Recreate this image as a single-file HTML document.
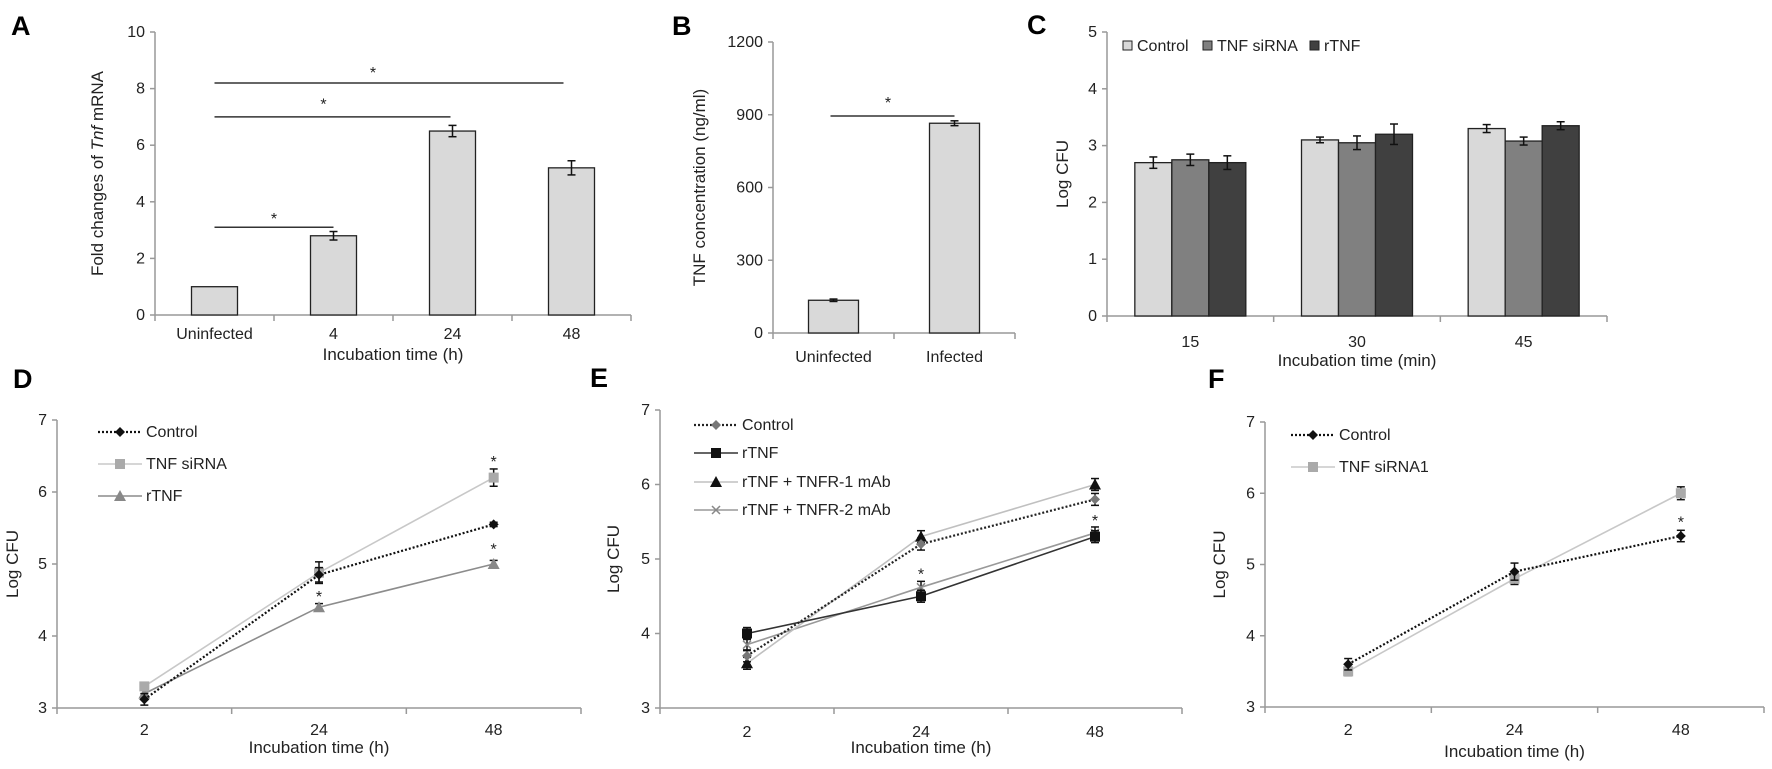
<!DOCTYPE html>
<html><head><meta charset="utf-8"><style>
body{margin:0;background:#fff}
svg{display:block;font-family:"Liberation Sans",sans-serif}
.tk{font-size:16px;fill:#222}
.tt{font-size:17px;fill:#222}
.pl{font-size:27px;font-weight:bold;fill:#000}
</style></head><body>
<svg id="fig" width="1772" height="769" viewBox="0 0 1772 769" xmlns="http://www.w3.org/2000/svg"></svg>
<script>
// Panel A data
const aCats = ["Uninfected","4","24","48"];
const aVals = [1, 2.8, 6.5, 5.2];
const aErr = [0, 0.15, 0.2, 0.25];
const aTicks = [0,2,4,6,8,10];
// Panel B
const bCats = ["Uninfected","Infected"];
const bVals = [135, 865];
const bErr = [5, 10];
const bTicks = [0,300,600,900,1200];
// Panel C
const cCats = ["15","30","45"];
const cSeries = ["Control","TNF siRNA","rTNF"];
const cControl = [2.7, 3.1, 3.3];
const cSiRNA = [2.75, 3.05, 3.08];
const cRTNF = [2.7, 3.2, 3.35];
const cErrControl = [0.1, 0.05, 0.07];
const cErrSiRNA = [0.1, 0.12, 0.07];
const cErrRTNF = [0.12, 0.18, 0.07];
const cTicks = [0,1,2,3,4,5];
// Panel D
const dCats = ["2","24","48"];
const dControl = [3.12, 4.85, 5.55];
const dSiRNA = [3.3, 4.88, 6.2];
const dRTNF = [3.2, 4.4, 5.0];
const dErrControl = [0.08, 0.1, 0.03];
const dErrSiRNA = [0.05, 0.15, 0.12];
const dErrRTNF = [0.05, 0.05, 0.05];
const lineTicks = [3,4,5,6,7];
// Panel E
const eCats = ["2","24","48"];
const eControl = [3.7, 5.2, 5.8];
const eRTNF = [4.0, 4.5, 5.3];
const eR1 = [3.6, 5.3, 6.0];
const eR2 = [3.85, 4.62, 5.35];
// Panel F
const fCats = ["2","24","48"];
const fControl = [3.6, 4.9, 5.4];
const fSiRNA1 = [3.5, 4.8, 6.0];

const svg = document.getElementById('fig');
const NS = 'http://www.w3.org/2000/svg';
function mk(tag, attrs, parent){
  const e = document.createElementNS(NS, tag);
  for (const k in attrs) e.setAttribute(k, attrs[k]);
  (parent||svg).appendChild(e);
  return e;
}
function txt(x,y,s,cls,anchor,parent){
  const t = mk('text',{x:x,y:y,'class':cls,'text-anchor':anchor||'middle'},parent);
  t.textContent = s;
  return t;
}
function axisY(x0,y0,y1,vmin,vmax){ return v => y0 - (v-vmin)/(vmax-vmin)*(y0-y1); }

function drawAxes(g, x0, x1, y0, yTop, ticks, yS, nCats, catLabels, xLab, labY, titleY, yTitle, ytx){
  mk('line',{x1:x0,y1:y0,x2:x0,y2:yTop,stroke:'#999','stroke-width':1.5},g);
  mk('line',{x1:x0,y1:y0,x2:x1,y2:y0,stroke:'#999','stroke-width':1.5},g);
  ticks.forEach(t=>{
    const y = yS(t);
    mk('line',{x1:x0-5,y1:y,x2:x0,y2:y,stroke:'#999','stroke-width':1.5},g);
    const l = txt(x0-10,y+5,String(t),'tk','end',g);
    
    
  });
  const cw = (x1-x0)/nCats;
  for(let i=0;i<=nCats;i++){
    mk('line',{x1:x0+i*cw,y1:y0,x2:x0+i*cw,y2:y0+6,stroke:'#999','stroke-width':1.5},g);
  }
  catLabels.forEach((c,i)=>{
    const l = txt(x0+(i+0.5)*cw,labY,c,'tk','middle',g);
    
    
  });
  const xt = txt((x0+x1)/2, titleY, xLab, 'tt','middle',g);
  
  
  const ymid = (y0+yTop)/2;
  const yt = mk('text',{x:ytx,y:ymid,'class':'tt','text-anchor':'middle',transform:'rotate(-90 '+ytx+' '+ymid+')'},g);
  
  
  if (typeof yTitle === 'string') yt.textContent = yTitle; else yTitle(yt);
  return cw;
}
function errBar(g,x,yv,ye,yS,w){
  const a=yS(yv+ye), b=yS(yv-ye);
  mk('line',{x1:x,y1:a,x2:x,y2:b,stroke:'#111','stroke-width':1.5},g);
  mk('line',{x1:x-w,y1:a,x2:x+w,y2:a,stroke:'#111','stroke-width':1.5},g);
  mk('line',{x1:x-w,y1:b,x2:x+w,y2:b,stroke:'#111','stroke-width':1.5},g);
}
function star(g,x,y){
  const s = txt(x,y+8,'*','tk','middle',g);
  
  
}
function sigLine(g,xa,xb,y){
  const l = mk('line',{x1:xa,y1:y,x2:xb,y2:y,stroke:'#333','stroke-width':1.5},g);
  
  
}
function panelLetter(x,y,s){
  const t = txt(x,y,s,'pl','start');
  
  
}

// ---------- Panel A ----------
(function(){
  const g = mk('g',{});
  
  
  const x0=155,x1=631,y0=315,yt=32;
  const yS = axisY(x0,y0,yt,0,10);
  const cw = drawAxes(g,x0,x1,y0,yt,aTicks,yS,aCats.length,aCats,'Incubation time (h)',339,360,
    el=>{el.appendChild(document.createTextNode('Fold changes of '));
      const ts=document.createElementNS(NS,'tspan');ts.setAttribute('font-style','italic');ts.textContent='Tnf';el.appendChild(ts);
      el.appendChild(document.createTextNode(' mRNA'));},103);
  aVals.forEach((v,i)=>{
    const cx=x0+(i+0.5)*cw, bw=46;
    const r = mk('rect',{x:cx-bw/2,y:yS(v),width:bw,height:y0-yS(v),fill:'#d9d9d9',stroke:'#222','stroke-width':1.3},g);
    
    
    if(aErr[i]>0) errBar(g,cx,v,aErr[i],yS,4);
  });
  const c=i=>x0+(i+0.5)*cw;
  sigLine(g,c(0),c(1),yS(3.1)); star(g,(c(0)+c(1))/2,yS(3.5));
  sigLine(g,c(0),c(2)-2,yS(7.0)); star(g,(c(0)+c(2))/2-10,yS(7.55));
  sigLine(g,c(0),c(3)-8,yS(8.2)); star(g,(c(0)+c(3))/2-20,yS(8.65));
})();
panelLetter(11,35,'A');

// ---------- Panel B ----------
(function(){
  const g = mk('g',{});
  
  
  const x0=773,x1=1015,y0=333,yt=42;
  const yS = axisY(x0,y0,yt,0,1200);
  const cw = drawAxes(g,x0,x1,y0,yt,bTicks,yS,bCats.length,bCats,'',362,380,'TNF concentration (ng/ml)',705);
  bVals.forEach((v,i)=>{
    const cx=x0+(i+0.5)*cw, bw=50;
    const r = mk('rect',{x:cx-bw/2,y:yS(v),width:bw,height:y0-yS(v),fill:'#d9d9d9',stroke:'#222','stroke-width':1.3},g);
    
    
    errBar(g,cx,v,bErr[i],yS,4);
  });
  const c=i=>x0+(i+0.5)*cw;
  sigLine(g,c(0)-3,c(1),yS(895)); star(g,(c(0)+c(1))/2-6,yS(960));
})();
panelLetter(672,35,'B');

// ---------- Panel C ----------
(function(){
  const g = mk('g',{});
  
  
  const x0=1107,x1=1607,y0=316,yt=32;
  const yS = axisY(x0,y0,yt,0,5);
  const cw = drawAxes(g,x0,x1,y0,yt,cTicks,yS,cCats.length,cCats,'Incubation time (min)',347,366,'Log CFU',1068);
  const series=[cControl,cSiRNA,cRTNF], errs=[cErrControl,cErrSiRNA,cErrRTNF], cols=['#d9d9d9','#808080','#404040'];
  const bw=37;
  cCats.forEach((cat,i)=>{
    const cx=x0+(i+0.5)*cw;
    series.forEach((s,j)=>{
      const bx=cx+(j-1.5)*bw;
      const r = mk('rect',{x:bx,y:yS(s[i]),width:bw,height:y0-yS(s[i]),fill:cols[j],stroke:'#222','stroke-width':1.3},g);
      
      
      errBar(g,bx+bw/2,s[i],errs[j][i],yS,4);
    });
  });
  const lg = mk('g',{},g);
  
  
  const lx=[1123,1203,1310];
  cSeries.forEach((s,j)=>{
    const r=mk('rect',{x:lx[j],y:41,width:9,height:9,fill:cols[j],stroke:'#222','stroke-width':1},lg);
    
    
    const t=txt(lx[j]+14,51,s,'tk','start',lg);
    
    
  });
})();
panelLetter(1027,34,'C');

// ---------- line chart helper ----------
function marker(g,type,x,y,color){
  let m;
  if(type==='diamond') m=mk('polygon',{points:`${x},${y-5} ${x+5},${y} ${x},${y+5} ${x-5},${y}`,fill:color},g);
  else if(type==='square') m=mk('rect',{x:x-5,y:y-5,width:10,height:10,fill:color},g);
  else if(type==='triangle') m=mk('polygon',{points:`${x},${y-6} ${x+6},${y+5} ${x-6},${y+5}`,fill:color},g);
  else { m=mk('path',{d:`M${x-4},${y-4}L${x+4},${y+4}M${x-4},${y+4}L${x+4},${y-4}`,stroke:color,'stroke-width':1.5,fill:'none'},g); }
  
  
}
function series(g,vals,errs,xS,yS,style,name){
  const pts = vals.map((v,i)=>xS(i)+','+yS(v)).join(' ');
  const pl = mk('polyline',{points:pts,fill:'none',stroke:style.stroke,'stroke-width':style.sw||1.6,'stroke-dasharray':style.dash||'none'},g);
  
  
  vals.forEach((v,i)=>{
    if(errs) errBar(g,xS(i),v,errs[i],yS,4);
    marker(g,style.marker,xS(i),yS(v),style.mcolor);
  });
}
function legendRow(g,x,y,label,style){
  mk('line',{x1:x,y1:y,x2:x+44,y2:y,stroke:style.stroke,'stroke-width':style.sw||1.6,'stroke-dasharray':style.dash||'none'},g);
  marker(g,style.marker,x+22,y,style.mcolor);
  const t=txt(x+48,y+5,label,'tk','start',g);
  
  
}

// ---------- Panel D ----------
(function(){
  const g = mk('g',{});
  
  
  const x0=57,x1=581,y0=708,yt=420;
  const yS = axisY(x0,y0,yt,3,7);
  const cw = drawAxes(g,x0,x1,y0,yt,lineTicks,yS,dCats.length,dCats,'Incubation time (h)',735,753,'Log CFU',18);
  const xS = i=>x0+(i+0.5)*cw;
  const sC={stroke:'#111',dash:'2,2',sw:2.2,marker:'diamond',mcolor:'#111'};
  const sS={stroke:'#c8c8c8',marker:'square',mcolor:'#aaa'};
  const sR={stroke:'#8c8c8c',marker:'triangle',mcolor:'#888'};
  series(g,dRTNF,dErrRTNF,xS,yS,sR,'rtnf');
  series(g,dSiRNA,dErrSiRNA,xS,yS,sS,'tnf-sirna');
  series(g,dControl,dErrControl,xS,yS,sC,'control');
  star(g,xS(2),yS(6.46)); star(g,xS(1),yS(4.58)); star(g,xS(2),yS(5.24));
  const lg=mk('g',{},g);
  
  
  legendRow(lg,98,432,'Control',sC);
  legendRow(lg,98,464,'TNF siRNA',sS);
  legendRow(lg,98,496,'rTNF',sR);
})();
panelLetter(13,388,'D');

// ---------- Panel E ----------
(function(){
  const g = mk('g',{});
  
  
  const x0=660,x1=1182,y0=708,yt=410;
  const yS = axisY(x0,y0,yt,3,7);
  const cw = drawAxes(g,x0,x1,y0,yt,lineTicks,yS,eCats.length,eCats,'Incubation time (h)',737,753,'Log CFU',619);
  const xS = i=>x0+(i+0.5)*cw;
  const sC={stroke:'#222',dash:'2,2',sw:2.2,marker:'diamond',mcolor:'#777'};
  const sR={stroke:'#333',marker:'square',mcolor:'#111'};
  const s1={stroke:'#c0c0c0',marker:'triangle',mcolor:'#111'};
  const s2={stroke:'#999',marker:'x',mcolor:'#888'};
  const e=[0.08,0.08,0.08];
  series(g,eR2,e,xS,yS,s2,'rtnf-tnfr2');
  series(g,eR1,e,xS,yS,s1,'rtnf-tnfr1');
  series(g,eRTNF,e,xS,yS,sR,'rtnf');
  series(g,eControl,e,xS,yS,sC,'control');
  star(g,xS(1),yS(4.83)); star(g,xS(2),yS(5.55));
  const lg=mk('g',{},g);
  
  
  legendRow(lg,694,425,'Control',sC);
  legendRow(lg,694,453,'rTNF',sR);
  legendRow(lg,694,482,'rTNF + TNFR-1 mAb',s1);
  legendRow(lg,694,510,'rTNF + TNFR-2 mAb',s2);
})();
panelLetter(590,387,'E');

// ---------- Panel F ----------
(function(){
  const g = mk('g',{});
  
  
  const x0=1265,x1=1764,y0=707,yt=422;
  const yS = axisY(x0,y0,yt,3,7);
  const cw = drawAxes(g,x0,x1,y0,yt,lineTicks,yS,fCats.length,fCats,'Incubation time (h)',735,757,'Log CFU',1225);
  const xS = i=>x0+(i+0.5)*cw;
  const sC={stroke:'#111',dash:'2,2',sw:2.2,marker:'diamond',mcolor:'#111'};
  const sS={stroke:'#c8c8c8',marker:'square',mcolor:'#aaa'};
  series(g,fSiRNA1,[0.06,0.08,0.09],xS,yS,sS,'tnf-sirna1');
  series(g,fControl,[0.08,0.12,0.08],xS,yS,sC,'control');
  star(g,xS(2),yS(5.63));
  const lg=mk('g',{},g);
  
  
  legendRow(lg,1291,435,'Control',sC);
  legendRow(lg,1291,467,'TNF siRNA1',sS);
})();
panelLetter(1208,388,'F');
</script>
</body></html>
